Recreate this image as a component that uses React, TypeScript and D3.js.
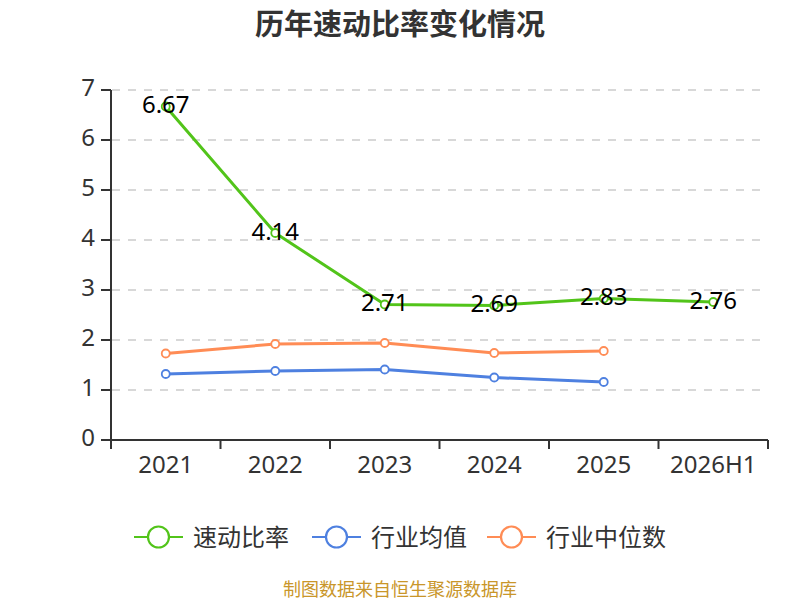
import React from "react";
import * as d3 from "d3";

const categories = ["2021", "2022", "2023", "2024", "2025", "2026H1"];
const quickRatio = [6.67, 4.14, 2.71, 2.69, 2.83, 2.76];
const industryMean = [1.32, 1.38, 1.41, 1.25, 1.16];
const industryMedian = [1.73, 1.92, 1.94, 1.74, 1.78];
const yTicks = [0, 1, 2, 3, 4, 5, 6, 7];

const seriesNames = ["速动比率", "行业均值", "行业中位数"];
const colors = ["#52c41a", "#4e80e0", "#ff8c55"];

const W = 800, H = 600;
const left = 111, right = 768, top = 90, bottom = 440;

export default function App() {
  const x = d3.scaleBand<string>().domain(categories).range([left, right]);
  const y = d3.scaleLinear().domain([0, 7]).range([bottom, top]);
  const cx = (c: string) => (x(c) as number) + x.bandwidth() / 2;
  const line = d3
    .line<number>()
    .x((_, i) => cx(categories[i]))
    .y((d) => y(d));
  const allSeries = [quickRatio, industryMean, industryMedian];
  const font = "'Noto Sans', 'Noto Sans CJK SC', sans-serif";
  const legendX = [134, 312, 487];

  return (
    <svg width={W} height={H} style={{ position: "absolute", left: 0, top: 0 }} fontFamily={font}>
      <rect width={W} height={H} fill="#fff" />
      <text x={400} y={34.5} textAnchor="middle" fontSize={29} fontWeight="bold" fill="#333"
        fontFamily="'Noto Sans CJK SC', sans-serif">
        历年速动比率变化情况
      </text>
      {yTicks.map((t) => (
        <g key={t}>
          {t > 0 && (
            <line x1={left + 1} x2={right} y1={y(t)} y2={y(t)} stroke="#cccccc" strokeDasharray="8,8" strokeWidth={1.6} />
          )}
          <line x1={left - 10} x2={left} y1={y(t)} y2={y(t)} stroke="#333" strokeWidth={2} />
          <text x={95} y={y(t) + 5.6} textAnchor="end" fontSize={24} fill="#333">
            {t}
          </text>
        </g>
      ))}
      <line x1={left} x2={left} y1={top} y2={bottom} stroke="#333" strokeWidth={2} />
      <line x1={left} x2={right} y1={bottom} y2={bottom} stroke="#333" strokeWidth={2} />
      {categories.map((c, i) => (
        <line key={"tk" + i} x1={x(c) as number} x2={x(c) as number} y1={bottom} y2={bottom + 9} stroke="#333" strokeWidth={2} />
      ))}
      <line x1={right} x2={right} y1={bottom} y2={bottom + 9} stroke="#333" strokeWidth={2} />
      {categories.map((c) => (
        <text key={c} x={cx(c)} y={473.3} textAnchor="middle" fontSize={24} fill="#333">
          {c}
        </text>
      ))}
      {allSeries.map((s, si) => (
        <g key={si}>
          <path d={line(s) as string} fill="none" stroke={colors[si]} strokeWidth={3} strokeLinejoin="round" />
          {s.map((v, i) => (
            <circle key={i} cx={cx(categories[i])} cy={y(v)} r={4} fill="#fff" stroke={colors[si]} strokeWidth={1.8} />
          ))}
        </g>
      ))}
      {quickRatio.map((v, i) => (
        <text key={"l" + i} x={cx(categories[i])} y={y(v) + 6.6} textAnchor="middle" fontSize={24} fill="#000">
          {v.toFixed(2)}
        </text>
      ))}
      {seriesNames.map((n, i) => (
        <g key={n} transform={`translate(${legendX[i]},537)`}>
          <line x1={0} x2={49} y1={0} y2={0} stroke={colors[i]} strokeWidth={2.2} />
          <circle cx={24.5} cy={0} r={10.5} fill="#fff" stroke={colors[i]} strokeWidth={2.2} />
          <text x={59} y={8.6} fontSize={24} fill="#333" fontFamily="'Noto Sans CJK SC', sans-serif">
            {n}
          </text>
        </g>
      ))}
      <text x={400} y={596} textAnchor="middle" fontSize={18} fill="#c9962a" fontFamily="'Noto Sans CJK SC', sans-serif">
        制图数据来自恒生聚源数据库
      </text>
    </svg>
  );
}
